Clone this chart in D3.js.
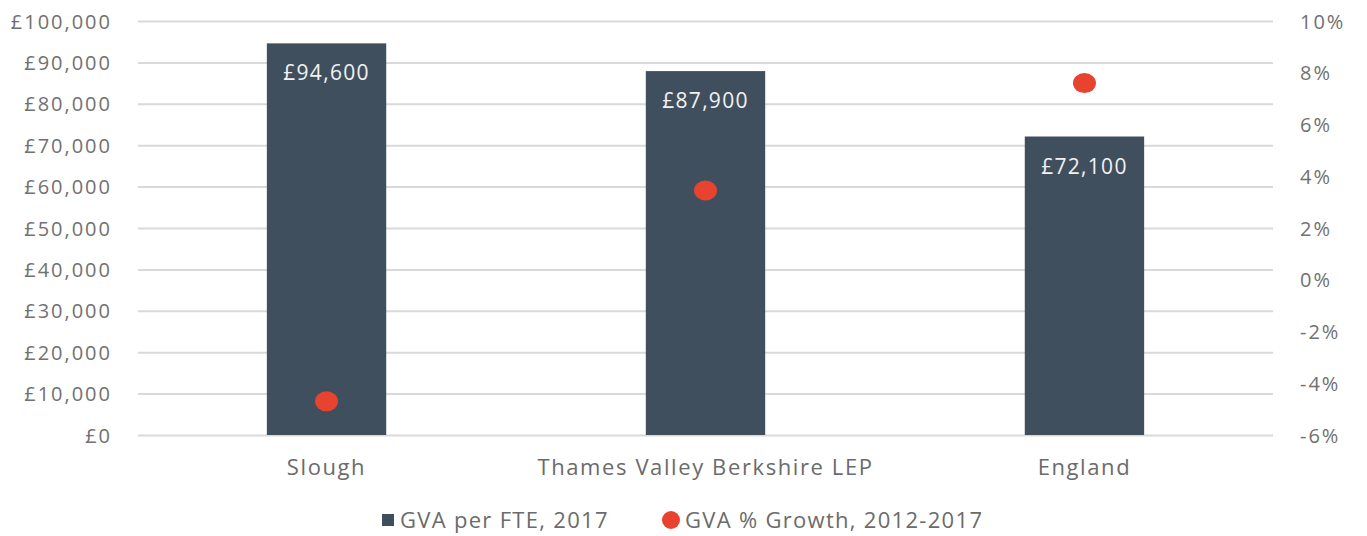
<!DOCTYPE html>
<html>
<head>
<meta charset="UTF-8">
<script src="https://cdn.jsdelivr.net/npm/d3@7"></script>
<style>
body { margin:0; background:#fff; }
text { font-family: "Open Sans", sans-serif; }
.axis text { font-size:20px; fill:#717171; letter-spacing:2px; }
.axis path, .axis line { display:none; }
.grid line { stroke:#d9d9d9; stroke-width:2px; }
.grid path { display:none; }
</style>
</head>
<body>
<div id="chart"></div>
<script>
// data
var categories = ["Slough", "Thames Valley Berkshire LEP", "England"];
var gvaPerFte = [94600, 87900, 72100];
var gvaGrowth = [-4.7, 3.45, 7.6];
var leftTicks = [0, 10000, 20000, 30000, 40000, 50000, 60000, 70000, 80000, 90000, 100000];
var rightTicks = [-6, -4, -2, 0, 2, 4, 6, 8, 10];
var legendLabels = ["GVA per FTE, 2017", "GVA % Growth, 2012-2017"];

var width = 1367, height = 536;
var padL = 138, padR = 1273, padT = 21, padB = 435;
var barColor = "#404f5e", dotColor = "#e8432f";

var svg = d3.select("#chart").append("svg")
	.attr("width", width)
	.attr("height", height);

var x = d3.scaleBand()
	.domain(categories)
	.range([padL, padR])
	.paddingInner(0.685)
	.paddingOuter(0.34);

var y = d3.scaleLinear().domain([0, 100000]).range([padB, padT]);
var y2 = d3.scaleLinear().domain([-6, 10]).range([padB, padT]);

// grid
svg.append("g")
	.attr("class", "grid")
	.attr("transform", "translate(" + padL + ",0)")
	.call(d3.axisLeft(y).tickValues(leftTicks).tickSize(padL - padR).tickFormat(""));

// left axis
svg.append("g")
	.attr("class", "axis")
	.attr("transform", "translate(" + (padL - 26) + ",0)")
	.call(d3.axisLeft(y).tickValues(leftTicks).tickSize(0)
		.tickFormat(function(d){ return "£" + d3.format(",")(d); }))
	.selectAll("text").attr("dy", "0.35em").attr("x", 0);

// right axis
svg.append("g")
	.attr("class", "axis")
	.attr("transform", "translate(" + (padR + 27) + ",0)")
	.call(d3.axisRight(y2).tickValues(rightTicks).tickSize(0)
		.tickFormat(function(d){ return d + "%"; }))
	.selectAll("text").attr("dy", "0.35em").attr("x", 0);

// bars
svg.selectAll("rect.bar")
	.data(categories)
	.enter()
	.append("rect")
	.attr("class", "bar")
	.attr("x", function(d){ return x(d); })
	.attr("y", function(d, i){ return y(gvaPerFte[i]); })
	.attr("width", x.bandwidth())
	.attr("height", function(d, i){ return padB - y(gvaPerFte[i]); })
	.attr("fill", barColor);

// bar labels
svg.selectAll("text.barlabel")
	.data(categories)
	.enter()
	.append("text")
	.attr("class", "barlabel")
	.attr("x", function(d){ return x(d) + x.bandwidth() / 2; })
	.attr("y", function(d, i){ return y(gvaPerFte[i]) + 37; })
	.attr("text-anchor", "middle")
	.attr("fill", "#f2f2f2")
	.style("font-size", "21px")
	.style("letter-spacing", "1.3px")
	.text(function(d, i){ return "£" + d3.format(",")(gvaPerFte[i]); });

// growth dots
svg.selectAll("ellipse.dot")
	.data(categories)
	.enter()
	.append("ellipse")
	.attr("class", "dot")
	.attr("cx", function(d){ return x(d) + x.bandwidth() / 2; })
	.attr("cy", function(d, i){ return y2(gvaGrowth[i]); })
	.attr("rx", 11.5)
	.attr("ry", 10)
	.attr("fill", dotColor);

// category labels
svg.selectAll("text.cat")
	.data(categories)
	.enter()
	.append("text")
	.attr("class", "cat")
	.attr("x", function(d){ return x(d) + x.bandwidth() / 2; })
	.attr("y", 475)
	.attr("text-anchor", "middle")
	.attr("fill", "#6b6b6b")
	.style("font-size", "22px")
	.style("letter-spacing", "1.6px")
	.text(function(d){ return d; });

// legend
var lg = svg.append("g").attr("transform", "translate(0,520)");
lg.append("rect")
	.attr("x", 382).attr("y", -6).attr("width", 12).attr("height", 12)
	.attr("fill", barColor);
lg.append("text")
	.attr("x", 400).attr("y", 0).attr("dy", "0.35em")
	.attr("fill", "#6b6b6b").style("font-size", "22px").style("letter-spacing", "1.3px")
	.text(legendLabels[0]);
lg.append("circle")
	.attr("cx", 671).attr("cy", 0).attr("r", 9)
	.attr("fill", dotColor);
lg.append("text")
	.attr("x", 685).attr("y", 0).attr("dy", "0.35em")
	.attr("fill", "#6b6b6b").style("font-size", "22px").style("letter-spacing", "1.3px")
	.text(legendLabels[1]);
</script>
</body>
</html>
